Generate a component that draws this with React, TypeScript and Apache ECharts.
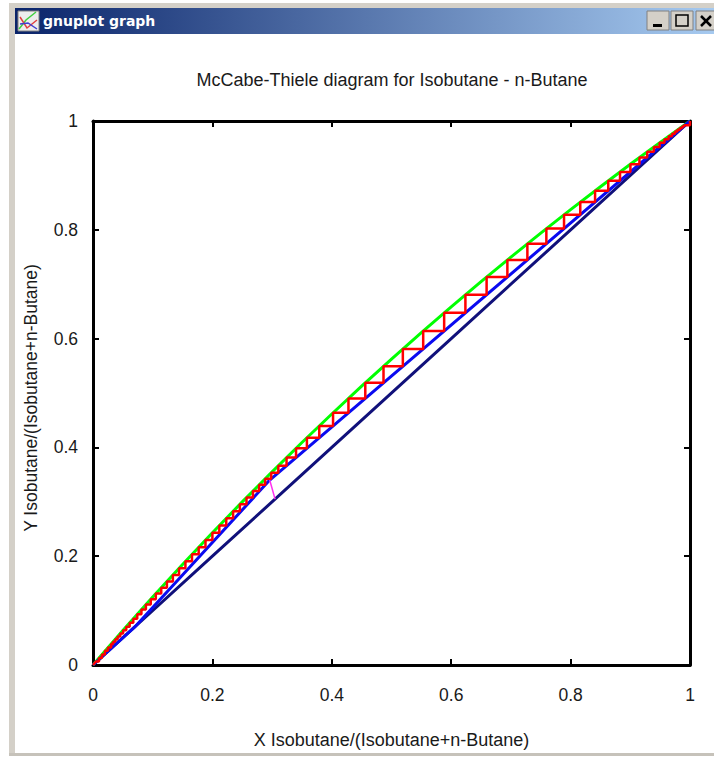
import React, { useEffect, useRef } from "react";
import * as echarts from "echarts";

const titleText = "McCabe-Thiele diagram for Isobutane - n-Butane";
const xName = "X Isobutane/(Isobutane+n-Butane)";
const yName = "Y Isobutane/(Isobutane+n-Butane)";
const windowTitle = "gnuplot graph";

const eqX = [0, 0.05, 0.1, 0.15, 0.2, 0.25, 0.3, 0.35, 0.4, 0.45, 0.5, 0.55, 0.6, 0.65, 0.7, 0.75, 0.8, 0.85, 0.9, 0.95, 1];
const eqY = [0, 0.0634, 0.125, 0.1849, 0.2431, 0.2999, 0.3551, 0.409, 0.4614, 0.5125, 0.5624, 0.611, 0.6584, 0.7047, 0.7499, 0.794, 0.8371, 0.8792, 0.9204, 0.9607, 1];

const opX = [0, 0.07, 0.296, 1];
const opY = [0, 0.07, 0.34, 1];

const diagX = [0, 0.2, 0.4, 0.6, 0.8, 1];
const diagY = [0, 0.2, 0.4, 0.6, 0.8, 1];

const qX = [0.305, 0.296];
const qY = [0.305, 0.34];

const stepX = [0.005, 0.01, 0.015, 0.02, 0.025, 0.0304, 0.0337, 0.0373, 0.0413, 0.0457, 0.0505, 0.0557, 0.0614, 0.0675, 0.0741, 0.0811, 0.0886, 0.0967, 0.1052, 0.1143, 0.1238, 0.1338, 0.1441, 0.1548, 0.1658, 0.177, 0.1884, 0.2, 0.2116, 0.2232, 0.2347, 0.246, 0.2571, 0.2679, 0.2783, 0.2884, 0.2985, 0.3104, 0.3242, 0.3401, 0.3583, 0.379, 0.4021, 0.4279, 0.4561, 0.4866, 0.519, 0.5531, 0.5882, 0.6238, 0.6593, 0.6941, 0.7276, 0.7594, 0.789, 0.8162, 0.841, 0.8631, 0.8828, 0.9002, 0.9153, 0.9283, 0.9395, 0.9491, 0.9572, 0.9642, 0.97, 0.9749, 0.979, 0.983, 0.987, 0.99, 1];
const stepY = [0.0065, 0.013, 0.0195, 0.026, 0.032, 0.0387, 0.0428, 0.0474, 0.0525, 0.058, 0.064, 0.0705, 0.0776, 0.0851, 0.0932, 0.1018, 0.1111, 0.1209, 0.1313, 0.1422, 0.1537, 0.1656, 0.1779, 0.1905, 0.2034, 0.2165, 0.2298, 0.2431, 0.2565, 0.2697, 0.2827, 0.2954, 0.3078, 0.3198, 0.3313, 0.3424, 0.3535, 0.3664, 0.3813, 0.3984, 0.4178, 0.4395, 0.4636, 0.4901, 0.5187, 0.5491, 0.581, 0.6139, 0.6473, 0.6806, 0.7132, 0.7446, 0.7744, 0.8022, 0.8277, 0.8509, 0.8717, 0.8901, 0.9064, 0.9206, 0.9328, 0.9433, 0.9523, 0.9599, 0.9664, 0.9719, 0.9765, 0.9805, 0.984, 0.987, 0.99, 0.992, 1];

const zip = (a: number[], b: number[]) => a.map((v, i) => [v, b[i]]);

const stairs = (xs: number[], ys: number[]) => {
  const pts: number[][] = [];
  for (let i = xs.length - 1; i > 0; i--) {
    pts.push([xs[i], ys[i]], [xs[i], ys[i - 1]]);
  }
  pts.push([xs[0], ys[0]], [0, 0]);
  return pts;
};

const FONT = "'Liberation Sans', Arial, sans-serif";

const line = (name: string, data: number[][], color: string, width: number, z: number) => ({
  name,
  type: "line",
  data,
  showSymbol: false,
  symbol: "none",
  smooth: false,
  lineStyle: { color, width },
  z,
});

const axisBase = {
  type: "value",
  min: 0,
  max: 1,
  interval: 0.2,
  splitLine: { show: false },
  axisLine: { show: true, onZero: false, lineStyle: { color: "#000", width: 3 } },
  axisTick: { show: true, inside: true, length: 6, lineStyle: { color: "#000", width: 2 } },
};

const frameColor = "#D4D0C8";

export default function App() {
  const ref = useRef<HTMLDivElement>(null);
  useEffect(() => {
    document.body.style.margin = "0";
    const chart = echarts.init(ref.current!, undefined, { renderer: "svg" });
    chart.setOption({
      animation: false,
      backgroundColor: "#fff",
      title: {
        text: titleText,
        left: 387,
        top: 66,
        textAlign: "center",
        textStyle: { fontFamily: FONT, fontSize: 18, fontWeight: "normal", color: "#1a1a1a" },
      },
      grid: { left: 93, right: 24, top: 121, bottom: 92, containLabel: false },
      xAxis: [
        {
          ...axisBase,
          position: "bottom",
          name: xName,
          nameLocation: "middle",
          nameGap: 66,
          nameTextStyle: { fontFamily: FONT, fontSize: 18, color: "#1a1a1a" },
          axisLabel: { fontFamily: FONT, fontSize: 17.5, color: "#1a1a1a", margin: 21 },
        },
        { ...axisBase, position: "top", axisLabel: { show: false } },
      ],
      yAxis: [
        {
          ...axisBase,
          position: "left",
          name: yName,
          nameLocation: "middle",
          nameGap: 53,
          nameRotate: 90,
          nameTextStyle: { fontFamily: FONT, fontSize: 17.5, color: "#1a1a1a", padding: [0, 10, 0, 0] },
          axisLabel: { fontFamily: FONT, fontSize: 17.5, color: "#1a1a1a", margin: 15 },
        },
        { ...axisBase, position: "right", axisLabel: { show: false } },
      ],
      series: [
        line("Equilibrium", zip(eqX, eqY), "#00FF00", 3, 3),
        line("Diagonal", zip(diagX, diagY), "#10107A", 3, 2),
        line("Operating", zip(opX, opY), "#0A0AF0", 3, 4),
        line("Feed", zip(qX, qY), "#FF30F0", 1.5, 5),
        line("Steps", stairs(stepX, stepY), "#FF0000", 2.5, 6),
      ],
      graphic: [
        { type: "rect", shape: { x: 9, y: 3, width: 705, height: 5 }, style: { fill: frameColor } },
        { type: "rect", shape: { x: 9, y: 3, width: 6, height: 753 }, style: { fill: frameColor } },
        { type: "rect", shape: { x: 9, y: 753, width: 705, height: 3 }, style: { fill: "#C6C2BA" } },
        {
          type: "rect",
          shape: { x: 15, y: 8, width: 699, height: 26 },
          style: {
            fill: new echarts.graphic.LinearGradient(0, 0, 1, 0, [
              { offset: 0, color: "#0A246A" },
              { offset: 1, color: "#A6CAF0" },
            ]),
          },
        },
        { type: "rect", shape: { x: 18, y: 11, width: 21, height: 20 }, style: { fill: "#EDEDED", stroke: "#808080", lineWidth: 1 } },
        { type: "polyline", shape: { points: [[19, 29], [26, 20], [36, 12]] }, style: { stroke: "#40D040", fill: "none", lineWidth: 1.5 } },
        { type: "polyline", shape: { points: [[20, 17], [27, 28], [37, 20]] }, style: { stroke: "#E04040", fill: "none", lineWidth: 1.5 } },
        { type: "polyline", shape: { points: [[20, 24], [28, 23], [37, 29]] }, style: { stroke: "#4040D0", fill: "none", lineWidth: 1.5 } },
        {
          type: "text",
          x: 43,
          y: 21,
          style: { text: windowTitle, fill: "#fff", font: "bold 14px 'DejaVu Sans', sans-serif", textVerticalAlign: "middle" },
        },
        { type: "rect", shape: { x: 647, y: 11, width: 22, height: 19 }, style: { fill: frameColor, stroke: "#808080", lineWidth: 1 } },
        { type: "rect", shape: { x: 653, y: 24, width: 9, height: 3 }, style: { fill: "#000" } },
        { type: "rect", shape: { x: 671, y: 11, width: 22, height: 19 }, style: { fill: frameColor, stroke: "#808080", lineWidth: 1 } },
        { type: "rect", shape: { x: 676, y: 15, width: 12, height: 11 }, style: { fill: "none", stroke: "#000", lineWidth: 1.5 } },
        { type: "rect", shape: { x: 696, y: 11, width: 20, height: 19 }, style: { fill: frameColor, stroke: "#808080", lineWidth: 1 } },
        { type: "line", shape: { x1: 701, y1: 16, x2: 711, y2: 26 }, style: { stroke: "#000", lineWidth: 2.5 } },
        { type: "line", shape: { x1: 711, y1: 16, x2: 701, y2: 26 }, style: { stroke: "#000", lineWidth: 2.5 } },
      ],
    });
    return () => chart.dispose();
  }, []);
  return <div ref={ref} style={{ width: 714, height: 757 }} />;
}
